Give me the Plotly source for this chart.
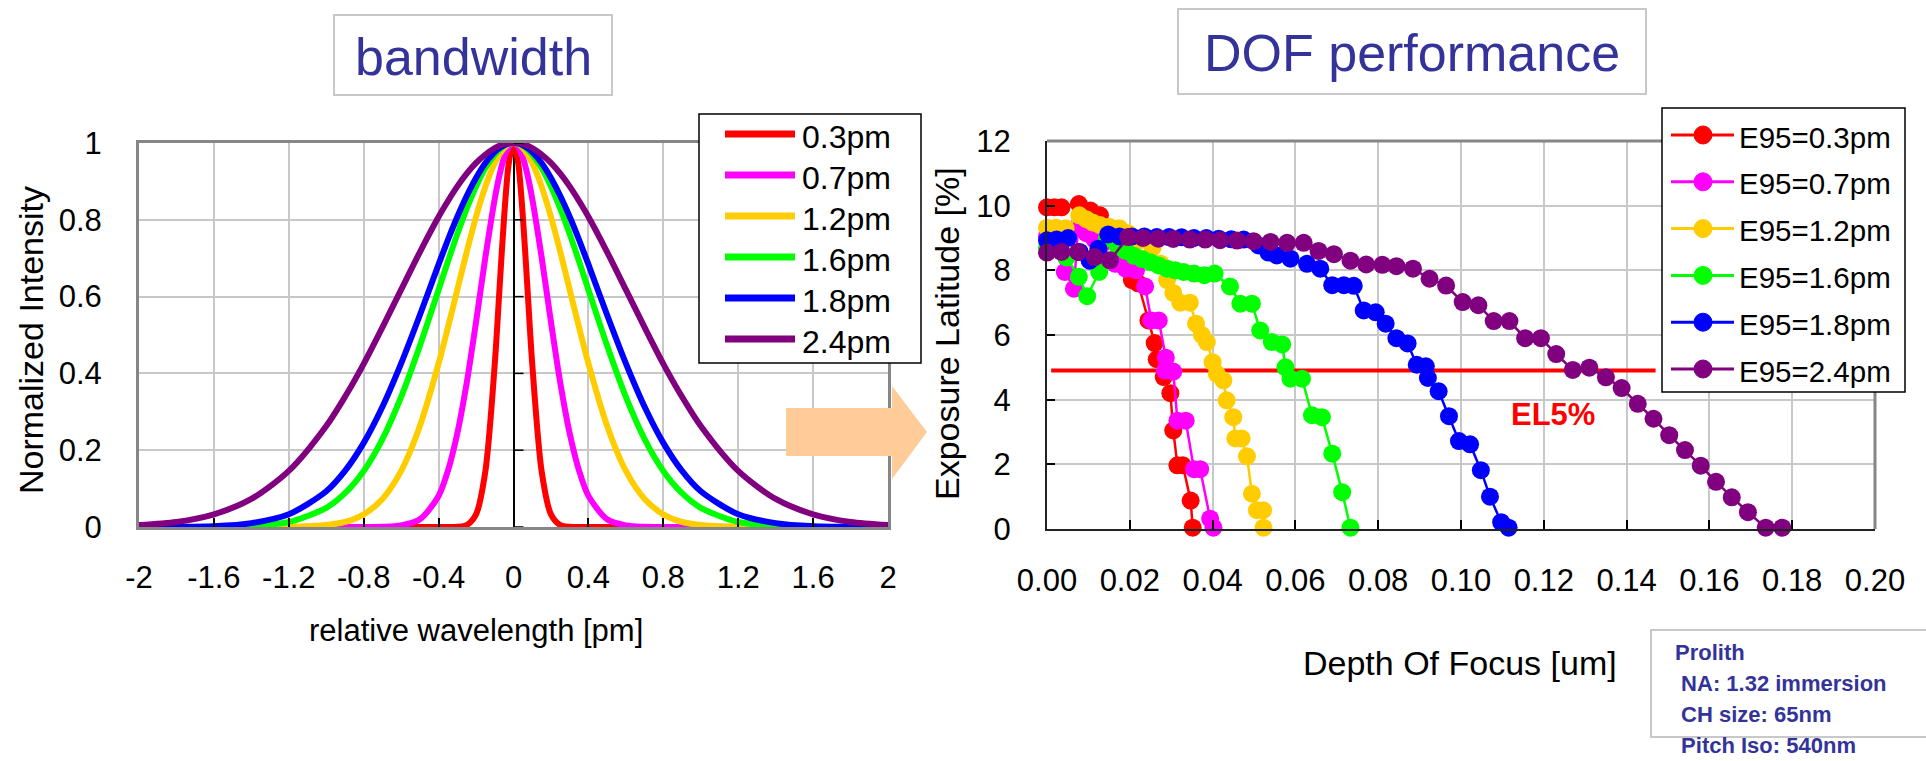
import plotly.graph_objects as go

W, H = 1926, 761
FONT = "Liberation Sans, Arial, Helvetica, sans-serif"
TITLE_BLUE = "#333399"

# ---------------- data: bandwidth spectra (left chart) ----------------
bw_names = ["0.3pm", "0.7pm", "1.2pm", "1.6pm", "1.8pm", "2.4pm"]
bw_colors = ["#FF0000", "#FF00FF", "#FFCC00", "#00FF00", "#0000FF", "#800080"]

wl_x = [-2.0, -1.8, -1.6, -1.4, -1.2, -1.0, -0.9, -0.8, -0.7, -0.6, -0.5, -0.4, -0.35, -0.3, -0.25,
        -0.2, -0.15, -0.1, -0.075, -0.05, -0.025,
        0.0,
        0.025, 0.05, 0.075, 0.1, 0.15, 0.2, 0.25, 0.3, 0.35, 0.4, 0.5, 0.6, 0.7, 0.8, 0.9, 1.0, 1.2,
        1.4, 1.6, 1.8, 2.0]

int_03 = [0, 0, 0, 0, 0, 0, 0, 0, 0, 0, 0, 0, 0, 0.0005, 0.005, 0.033, 0.146, 0.425, 0.618, 0.808, 0.948,
          1.0,
          0.948, 0.808, 0.618, 0.425, 0.146, 0.033, 0.005, 0.0005, 0, 0, 0, 0, 0, 0, 0, 0, 0, 0, 0, 0, 0]
int_07 = [0, 0, 0, 0, 0, 0, 0, 0, 0.0005, 0.004, 0.020, 0.081, 0.147, 0.244, 0.375, 0.534, 0.703, 0.855, 0.916, 0.962, 0.990,
          1.0,
          0.990, 0.962, 0.916, 0.855, 0.703, 0.534, 0.375, 0.244, 0.147, 0.081, 0.020, 0.004, 0.0005, 0, 0, 0, 0, 0, 0, 0, 0]
int_12 = [0, 0, 0, 0, 0.0005, 0.005, 0.013, 0.033, 0.073, 0.146, 0.263, 0.426, 0.520, 0.618, 0.716, 0.808, 0.887, 0.948, 0.970, 0.987, 0.997,
          1.0,
          0.997, 0.987, 0.970, 0.948, 0.887, 0.808, 0.716, 0.618, 0.520, 0.426, 0.263, 0.146, 0.073, 0.033, 0.013, 0.005, 0.0005, 0, 0, 0, 0]
int_16 = [0, 0, 0.0005, 0.003, 0.013, 0.050, 0.088, 0.146, 0.229, 0.339, 0.472, 0.618, 0.692, 0.763, 0.829, 0.887, 0.935, 0.970, 0.983, 0.993, 0.998,
          1.0,
          0.998, 0.993, 0.983, 0.970, 0.935, 0.887, 0.829, 0.763, 0.692, 0.618, 0.472, 0.339, 0.229, 0.146, 0.088, 0.050, 0.013, 0.003, 0.0005, 0, 0]
int_18 = [0, 0.0005, 0.002, 0.010, 0.033, 0.093, 0.146, 0.219, 0.313, 0.426, 0.552, 0.684, 0.748, 0.808, 0.862, 0.909, 0.948, 0.977, 0.987, 0.994, 0.999,
          1.0,
          0.999, 0.994, 0.987, 0.977, 0.948, 0.909, 0.862, 0.808, 0.748, 0.684, 0.552, 0.426, 0.313, 0.219, 0.146, 0.093, 0.033, 0.010, 0.002, 0.0005, 0]
int_24 = [0.005, 0.013, 0.033, 0.073, 0.146, 0.263, 0.339, 0.425, 0.520, 0.618, 0.716, 0.808, 0.849, 0.887, 0.920, 0.948, 0.970, 0.987, 0.993, 0.997, 0.999,
          1.0,
          0.999, 0.997, 0.993, 0.987, 0.970, 0.948, 0.920, 0.887, 0.849, 0.808, 0.716, 0.618, 0.520, 0.425, 0.339, 0.263, 0.146, 0.073, 0.033, 0.013, 0.005]
bw_series = [int_03, int_07, int_12, int_16, int_18, int_24]

wl_ticks = [-2, -1.6, -1.2, -0.8, -0.4, 0, 0.4, 0.8, 1.2, 1.6, 2]
wl_ticktext = ["-2", "-1.6", "-1.2", "-0.8", "-0.4", "0", "0.4", "0.8", "1.2", "1.6", "2"]
int_ticks = [0, 0.2, 0.4, 0.6, 0.8, 1.0]
int_ticktext = ["0", "0.2", "0.4", "0.6", "0.8", "1"]

# ---------------- data: DOF vs EL (right chart) ----------------
dof_names = ["E95=0.3pm", "E95=0.7pm", "E95=1.2pm", "E95=1.6pm", "E95=1.8pm", "E95=2.4pm"]

dof_03 = [0.0, 0.0018, 0.0035, 0.0077, 0.0105, 0.0128, 0.016, 0.019, 0.0205, 0.022, 0.0245, 0.026, 0.0265,
          0.0282, 0.0298, 0.0305, 0.0315, 0.0328, 0.0347, 0.0352]
el_03 = [9.95, 9.95, 9.95, 10.05, 9.85, 9.7, 9.0, 8.2, 7.7, 7.6, 6.45, 5.75, 5.25,
         4.7, 4.2, 3.05, 1.97, 1.97, 0.88, 0.04]

dof_07 = [0.0, 0.0043, 0.0065, 0.0075, 0.0095, 0.0115, 0.013, 0.0165, 0.019, 0.0215, 0.0237, 0.0252, 0.027,
          0.0287, 0.0285, 0.0305, 0.0315, 0.0335, 0.0355, 0.037, 0.0394, 0.0402]
el_07 = [9.05, 7.95, 7.43, 9.35, 9.15, 8.95, 8.75, 8.2, 8.05, 8.0, 7.5, 6.45, 6.45,
         5.3, 4.9, 4.87, 3.35, 3.35, 1.85, 1.85, 0.32, 0.04]

dof_12 = [0.0, 0.0022, 0.0045, 0.0078, 0.0095, 0.011, 0.0128, 0.015, 0.0175, 0.0195, 0.022, 0.0255, 0.0275,
          0.029, 0.0305, 0.0322, 0.0345, 0.036, 0.0374, 0.0386, 0.040, 0.041, 0.0426, 0.0434, 0.045, 0.0455,
          0.047, 0.0483, 0.0495, 0.0507, 0.0522, 0.0523]
el_12 = [9.32, 9.32, 9.3, 9.7, 9.58, 9.48, 9.4, 9.35, 9.3, 9.15, 8.9, 8.7, 8.2,
         7.7, 7.3, 7.0, 7.0, 6.35, 6.0, 5.78, 5.16, 4.8, 4.6, 3.98, 3.46, 2.8,
         2.8, 2.25, 1.09, 0.58, 0.58, 0.04]

dof_16 = [0.0, 0.0047, 0.0077, 0.0097, 0.0126, 0.0145, 0.017, 0.019, 0.021, 0.023, 0.025, 0.027, 0.029,
          0.031, 0.033, 0.0355, 0.038, 0.0405, 0.0442, 0.0467, 0.0495, 0.0515, 0.0543, 0.0568, 0.0576,
          0.0588, 0.0616, 0.064, 0.0664, 0.0689, 0.0713, 0.0733]
el_16 = [8.7, 8.4, 7.8, 7.2, 7.95, 9.0, 8.75, 8.6, 8.45, 8.35, 8.25, 8.15, 8.05,
         8.0, 7.95, 7.9, 7.85, 7.9, 7.5, 6.97, 6.97, 6.14, 5.78, 5.71, 5.0,
         4.65, 4.65, 3.52, 3.46, 2.33, 1.14, 0.04]

dof_18 = [0.0, 0.0023, 0.0051, 0.0079, 0.0103, 0.0124, 0.0148, 0.0175, 0.0205, 0.0235, 0.0265, 0.0295,
          0.0325, 0.0355, 0.0385, 0.0415, 0.0445, 0.0475, 0.0511, 0.0535, 0.0555, 0.0588, 0.0628, 0.066,
          0.0689, 0.0717, 0.0741, 0.0765, 0.0794, 0.0818, 0.0844, 0.0871, 0.0893, 0.0915, 0.092, 0.0946,
          0.0971, 0.0995, 0.1022, 0.1048, 0.107, 0.1097, 0.1115]
el_18 = [8.93, 8.95, 9.0, 8.57, 8.3, 8.67, 9.11, 9.05, 9.05, 9.05, 9.03, 9.03,
         9.02, 9.0, 9.0, 8.98, 8.96, 8.95, 8.77, 8.55, 8.46, 8.36, 8.2, 8.05,
         7.54, 7.54, 7.52, 6.76, 6.7, 6.35, 5.9, 5.74, 5.08, 5.03, 4.67, 4.26,
         3.49, 2.72, 2.62, 1.82, 1.0, 0.21, 0.04]

dof_24 = [0.0, 0.0035, 0.0075, 0.0115, 0.0152, 0.0196, 0.0232, 0.0269, 0.0305, 0.0345, 0.0382, 0.0418,
          0.0459, 0.0499, 0.054, 0.058, 0.062, 0.0656, 0.0693, 0.0733, 0.0771, 0.081, 0.0844, 0.0884,
          0.0924, 0.0964, 0.1004, 0.1042, 0.1079, 0.1117, 0.1155, 0.1193, 0.123, 0.127, 0.131, 0.135,
          0.1388, 0.1427, 0.1465, 0.1503, 0.1541, 0.1579, 0.1616, 0.1654, 0.1693, 0.1736, 0.1776]
el_24 = [8.55, 8.57, 8.57, 8.41, 8.31, 9.03, 9.0, 8.98, 8.97, 8.95, 8.95, 8.93,
         8.92, 8.9, 8.88, 8.85, 8.85, 8.6, 8.5, 8.3, 8.18, 8.17, 8.13, 8.05,
         7.74, 7.53, 7.02, 6.92, 6.43, 6.43, 5.9, 5.9, 5.41, 4.92, 4.99, 4.69,
         4.36, 3.87, 3.41, 2.9, 2.44, 1.96, 1.46, 0.98, 0.52, 0.04, 0.04]

dof_x_series = [dof_03, dof_07, dof_12, dof_16, dof_18, dof_24]
el_series = [el_03, el_07, el_12, el_16, el_18, el_24]

el_limit = 4.9
el_limit_dof = [0.001, 0.147]
el_label = "EL5%"

info_lines = ["Prolith", " NA: 1.32 immersion", " CH size: 65nm", " Pitch Iso: 540nm"]


def px(x):
    return x / W


def py(y):
    return 1 - y / H


# plot areas (pixels)
L_X0, L_X1, L_Y0, L_Y1 = 139, 888, 143, 527
R_X0, R_X1, R_Y0, R_Y1 = 1047, 1875, 141, 529

fig = go.Figure()

for name, color, ys in zip(bw_names, bw_colors, bw_series):
    fig.add_trace(go.Scatter(x=wl_x, y=ys, mode="lines", name=name,
                             line=dict(color=color, width=6, shape="spline", smoothing=0.8),
                             xaxis="x", yaxis="y", showlegend=False, hoverinfo="skip"))

fig.add_trace(go.Scatter(x=el_limit_dof, y=[el_limit, el_limit], mode="lines",
                         line=dict(color="#FF0000", width=4), xaxis="x2", yaxis="y2",
                         showlegend=False, hoverinfo="skip"))

for name, color, xs, ys in zip(dof_names, bw_colors, dof_x_series, el_series):
    fig.add_trace(go.Scatter(x=xs, y=ys, mode="lines+markers", name=name,
                             line=dict(color=color, width=2.5),
                             marker=dict(color=color, size=18, symbol="circle"),
                             cliponaxis=False, xaxis="x2", yaxis="y2", showlegend=False))

tickfont = dict(family=FONT, size=31, color="#000000")
GRID = "#c8c8c8"

fig.update_layout(
    width=W, height=H,
    margin=dict(l=0, r=0, t=0, b=0, pad=0, autoexpand=False),
    paper_bgcolor="white", plot_bgcolor="white",
    font=dict(family=FONT, color="#000000"),
    showlegend=False,
    xaxis=dict(domain=[px(L_X0), px(L_X1)], range=[-2, 2], tickvals=wl_ticks, ticktext=wl_ticktext,
               ticks="inside", ticklen=9, tickwidth=1.5, tickcolor="#000000",
               showgrid=True, gridcolor=GRID, gridwidth=1.5,
               showline=True, linecolor="#868686", linewidth=3, mirror=True,
               zeroline=True, zerolinecolor="#000000", zerolinewidth=1.5,
               tickfont=tickfont, ticklabelstandoff=21, anchor="y", fixedrange=True, automargin=False),
    yaxis=dict(domain=[py(L_Y1), py(L_Y0)], range=[0, 1], tickvals=int_ticks, ticktext=int_ticktext,
               ticks="", showgrid=True, gridcolor=GRID, gridwidth=1.5,
               showline=True, linecolor="#868686", linewidth=3, mirror=True,
               zeroline=False, tickfont=tickfont, ticklabelstandoff=28, anchor="x", fixedrange=True,
               automargin=False),
    xaxis2=dict(domain=[px(R_X0), px(R_X1)], range=[0, 0.2], dtick=0.02, tick0=0, tickformat=".2f",
                ticks="inside", ticklen=9, tickwidth=1.5, tickcolor="#000000",
                showgrid=True, gridcolor=GRID, gridwidth=1.5,
                showline=True, linecolor="#222222", linewidth=2, mirror=False,
                zeroline=False, tickfont=tickfont, ticklabelstandoff=23, anchor="y2", fixedrange=True,
                automargin=False),
    yaxis2=dict(domain=[py(R_Y1), py(R_Y0)], range=[0, 12], dtick=2, tick0=0,
                ticks="inside", ticklen=8, tickwidth=1.5, tickcolor="#000000",
                showgrid=True, gridcolor=GRID, gridwidth=1.5,
                showline=True, linecolor="#222222", linewidth=2, mirror=False,
                zeroline=False, tickfont=tickfont, ticklabelstandoff=28, anchor="x2", fixedrange=True,
                automargin=False),
)

shapes = []
annotations = []

# tick marks on the x=0 axis line of the left chart
for t in int_ticks:
    shapes.append(dict(type="line", xref="x", yref="y", xsizemode="pixel", xanchor=0,
                       x0=0, x1=10, y0=t, y1=t, line=dict(color="#000000", width=1.5), layer="above"))

# gray frame (top and right) of the right chart
shapes.append(dict(type="line", xref="x2 domain", yref="y2 domain", x0=0, x1=1, y0=1, y1=1,
                   line=dict(color="#868686", width=3), layer="above"))
shapes.append(dict(type="line", xref="x2 domain", yref="y2 domain", x0=1, x1=1, y0=0, y1=1,
                   line=dict(color="#868686", width=3), layer="above"))

# title boxes
for (x0, x1, y0, y1, text) in [(334, 612, 15, 95, "bandwidth"), (1178, 1646, 9, 94, "DOF performance")]:
    shapes.append(dict(type="rect", xref="paper", yref="paper", x0=px(x0), x1=px(x1), y0=py(y1), y1=py(y0),
                       line=dict(color="#c8c8c8", width=2), fillcolor="white", layer="above"))
    annotations.append(dict(xref="paper", yref="paper", x=px((x0 + x1) / 2), y=py((y0 + y1) / 2 + 2),
                            text=text, showarrow=False, xanchor="center", yanchor="middle",
                            font=dict(family=FONT, size=52, color=TITLE_BLUE)))

# arrow between charts
arrow_path = (f"M {px(786)},{py(408)} L {px(892)},{py(408)} L {px(892)},{py(386)} "
              f"L {px(927)},{py(432)} L {px(892)},{py(479)} L {px(892)},{py(456)} "
              f"L {px(786)},{py(456)} Z")
shapes.append(dict(type="path", xref="paper", yref="paper", path=arrow_path,
                   fillcolor="#FFCC99", line=dict(width=0), layer="above"))

# left legend
shapes.append(dict(type="rect", xref="paper", yref="paper", x0=px(699), x1=px(921), y0=py(363), y1=py(114),
                   line=dict(color="#000000", width=1.5), fillcolor="white", layer="above"))
for i, (name, color) in enumerate(zip(bw_names, bw_colors)):
    ry = 134 + i * 41
    shapes.append(dict(type="line", xref="paper", yref="paper", x0=px(725), x1=px(795), y0=py(ry), y1=py(ry),
                       line=dict(color=color, width=7), layer="above"))
    annotations.append(dict(xref="paper", yref="paper", x=px(800), y=py(ry + 3), text=name,
                            showarrow=False, xanchor="left", yanchor="middle",
                            font=dict(family=FONT, size=32, color="#000000")))

# right legend
shapes.append(dict(type="rect", xref="paper", yref="paper", x0=px(1662), x1=px(1905), y0=py(392), y1=py(108),
                   line=dict(color="#000000", width=1.5), fillcolor="white", layer="above"))
for i, (name, color) in enumerate(zip(dof_names, bw_colors)):
    ry = 135 + i * 46.8
    shapes.append(dict(type="line", xref="paper", yref="paper", x0=px(1671), x1=px(1734), y0=py(ry), y1=py(ry),
                       line=dict(color=color, width=3), layer="above"))
    shapes.append(dict(type="circle", xref="paper", yref="paper", x0=px(1694), x1=px(1712),
                       y0=py(ry + 9), y1=py(ry - 9), fillcolor=color, line=dict(color=color, width=1),
                       layer="above"))
    annotations.append(dict(xref="paper", yref="paper", x=px(1737), y=py(ry + 2), text=name,
                            showarrow=False, xanchor="left", yanchor="middle",
                            font=dict(family=FONT, size=29.5, color="#000000")))

# Prolith info box
shapes.append(dict(type="rect", xref="paper", yref="paper", x0=px(1651), x1=px(1935), y0=py(737), y1=py(630),
                   line=dict(color="#c8c8c8", width=2), fillcolor="white", layer="above"))
for i, line in enumerate(info_lines):
    annotations.append(dict(xref="paper", yref="paper", x=px(1673), y=py(652 + i * 31.3),
                            text=line.replace(" ", "&nbsp;", 1) if line.startswith(" ") else line,
                            showarrow=False, xanchor="left", yanchor="middle",
                            font=dict(family=FONT, size=22, color=TITLE_BLUE, weight="bold")))

# EL5% label
annotations.append(dict(xref="x2", yref="y2", x=0.1222, y=3.53, text=el_label, showarrow=False,
                        xanchor="center", yanchor="middle",
                        font=dict(family=FONT, size=31, color="#FF0000", weight="bold")))

# axis titles
annotations += [
    dict(xref="paper", yref="paper", x=px(31), y=py(340), text="Normalized Intensity", textangle=-90,
         showarrow=False, xanchor="center", yanchor="middle", font=dict(family=FONT, size=34)),
    dict(xref="paper", yref="paper", x=px(476), y=py(630), text="relative wavelength [pm]",
         showarrow=False, xanchor="center", yanchor="middle", font=dict(family=FONT, size=31)),
    dict(xref="paper", yref="paper", x=px(947), y=py(334), text="Exposure Latitude [%]", textangle=-90,
         showarrow=False, xanchor="center", yanchor="middle", font=dict(family=FONT, size=34)),
    dict(xref="paper", yref="paper", x=px(1460), y=py(663), text="Depth Of Focus [um]",
         showarrow=False, xanchor="center", yanchor="middle", font=dict(family=FONT, size=34)),
]

fig.update_layout(shapes=shapes, annotations=annotations)
fig.write_html("out.html")
